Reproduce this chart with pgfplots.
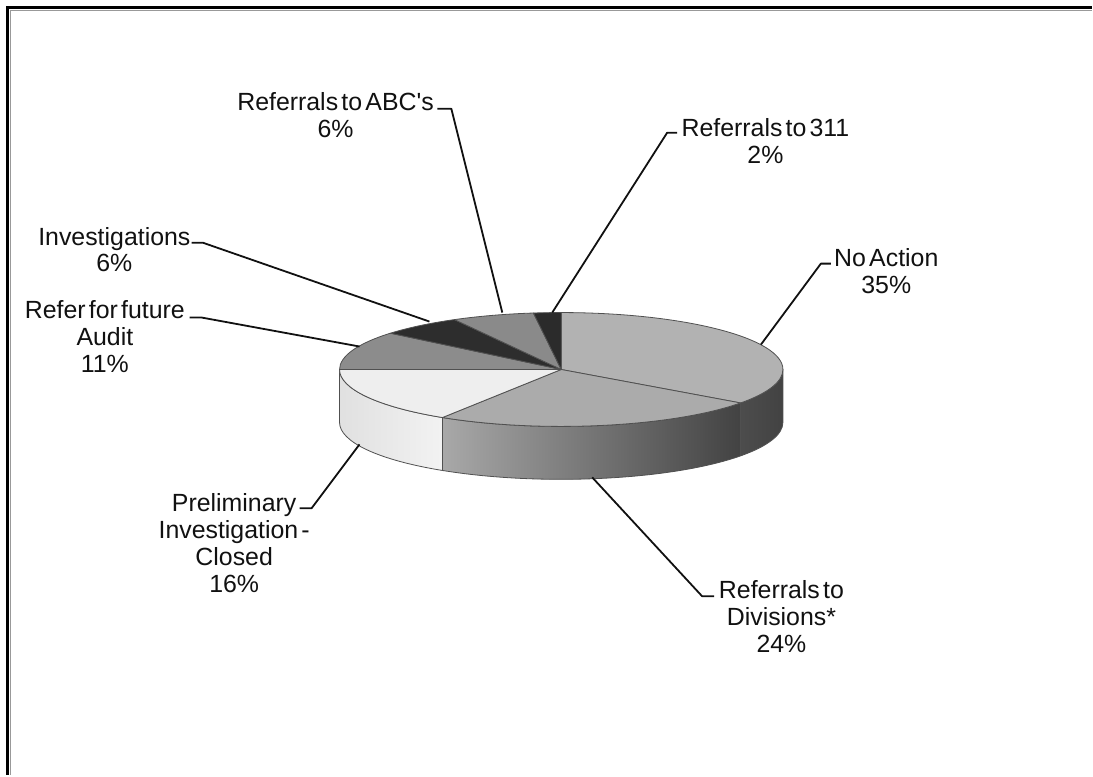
\documentclass[border=0pt]{standalone}
\usepackage{pgfplots}
\pgfplotsset{compat=1.18}
\usepackage{fontspec}
\setmainfont{Liberation Sans}[Ligatures=TeXOff]
\newcommand\lab{\fontsize{25}{27}\selectfont\spaceskip=0.13em\relax}
% pie geometry (axis units = bp)
\def\cx{562}\def\cy{406}\def\rx{222}\def\ry{57}
\def\rxbp{222bp}\def\rybp{57bp}\def\depbp{53bp}
\definecolor{cNo}{HTML}{B2B2B2}
\definecolor{cDiv}{HTML}{ABABAB}
\definecolor{cPre}{HTML}{EEEEEE}
\definecolor{cAud}{HTML}{8C8C8C}
\definecolor{cInv}{HTML}{2D2D2D}
\definecolor{cABC}{HTML}{8A8A8A}
\definecolor{c311}{HTML}{2B2B2B}
\definecolor{edge}{HTML}{505050}
\definecolor{txt}{HTML}{111111}
% top face of a slice: cumulative start %, cumulative end %, colour
\newcommand{\topslice}[3]{%
  \pgfmathsetmacro\aA{90-3.6*#1}%
  \pgfmathsetmacro\aB{90-3.6*#2}%
  \pgfmathsetmacro\xA{\cx+\rx*cos(\aA)}%
  \pgfmathsetmacro\yA{\cy+\ry*sin(\aA)}%
  \edef\tmp{\noexpand\filldraw[fill=#3,draw=edge,line width=0.8bp,line join=round] (axis cs:\cx,\cy) -- (axis cs:\xA,\yA) arc[start angle=\aA, end angle=\aB, x radius=\rxbp, y radius=\rybp] -- cycle;}%
  \tmp}
% front side of a slice: cumulative start %, cumulative end %, style
\newcommand{\sideslice}[3]{%
  \pgfmathsetmacro\aA{min(0,90-3.6*#1)}%
  \pgfmathsetmacro\aB{max(-180,90-3.6*#2)}%
  \pgfmathsetmacro\xA{\cx+\rx*cos(\aA)}%
  \pgfmathsetmacro\yA{\cy+\ry*sin(\aA)}%
  \edef\tmp{\noexpand\path[#3,draw=edge,line width=0.8bp,line join=round] (axis cs:\xA,\yA) arc[start angle=\aA, end angle=\aB, x radius=\rxbp, y radius=\rybp] -- ++(0,-\depbp) arc[start angle=\aB, end angle=\aA, x radius=\rxbp, y radius=\rybp] -- cycle;}%
  \tmp}
\begin{document}
\begin{tikzpicture}
\begin{axis}[x=1bp,y=1bp,xmin=0,xmax=1093,ymin=0,ymax=776,hide axis,clip=false]
\path (axis cs:0,0) rectangle (axis cs:1093,776);
% frame (left and top)
\draw[line width=3bp,black] (axis cs:7.5,0) -- (axis cs:7.5,768) -- (axis cs:1093,768);
\draw[line width=1.2bp,black!40] (axis cs:10.3,0) -- (axis cs:10.3,765.3) -- (axis cs:1093,765.3);
% sides (No Action 0-35, Divisions 35-59, Preliminary 59-75)
\sideslice{0}{35}{left color=black!70,right color=black!74}
\sideslice{35}{59}{left color=black!34,right color=black!74}
\sideslice{59}{75}{left color=black!12,right color=black!5}
% top faces: No Action 35, Divisions 24, Preliminary 16, Audit 11, Investigations 6, ABC's 6, 311 2
\topslice{0}{35}{cNo}
\topslice{35}{59}{cDiv}
\topslice{59}{75}{cPre}
\topslice{75}{86}{cAud}
\topslice{86}{92}{cInv}
\topslice{92}{98}{cABC}
\topslice{98}{100}{c311}
% leader lines
\draw[line width=1.8bp,txt,line join=round] (axis cs:438,667) -- (axis cs:452,667) -- (axis cs:503,463);
\draw[line width=1.8bp,txt,line join=round] (axis cs:192,533) -- (axis cs:203,533) -- (axis cs:430,454);
\draw[line width=1.8bp,txt,line join=round] (axis cs:190,458) -- (axis cs:202,458) -- (axis cs:360,429);
\draw[line width=1.8bp,txt,line join=round] (axis cs:678,643) -- (axis cs:668,643) -- (axis cs:553,463);
\draw[line width=1.8bp,txt,line join=round] (axis cs:832,512) -- (axis cs:822,512) -- (axis cs:762,431);
\draw[line width=1.8bp,txt,line join=round] (axis cs:300,267) -- (axis cs:312,267) -- (axis cs:360,331);
\draw[line width=1.8bp,txt,line join=round] (axis cs:715,179) -- (axis cs:703,179) -- (axis cs:593,298);
% labels
\node[align=center,font=\lab,text=txt,inner sep=0pt] at (axis cs:336,660.5) {Referrals to ABC's\\6\%};
\node[align=center,font=\lab,text=txt,inner sep=0pt] at (axis cs:114.5,526) {Investigations\\6\%};
\node[align=center,font=\lab,text=txt,inner sep=0pt] at (axis cs:105,439) {Refer for future\\Audit\\11\%};
\node[align=center,font=\lab,text=txt,inner sep=0pt] at (axis cs:766.5,635) {Referrals to 311\\2\%};
\node[align=center,font=\lab,text=txt,inner sep=0pt] at (axis cs:887.5,504.5) {No Action\\35\%};
\node[align=center,font=\lab,text=txt,inner sep=0pt] at (axis cs:234.5,232) {Preliminary\\Investigation -\\Closed\\16\%};
\node[align=center,font=\lab,text=txt,inner sep=0pt] at (axis cs:782.5,158.5) {Referrals to\\Divisions*\\24\%};
\end{axis}
\end{tikzpicture}
\end{document}
